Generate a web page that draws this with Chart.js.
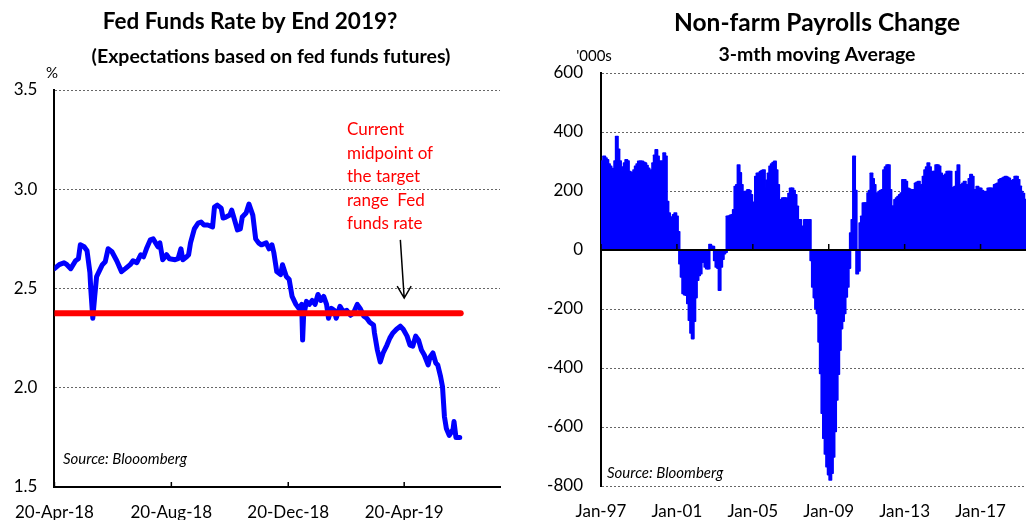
<!DOCTYPE html>
<html>
<head>
<meta charset="utf-8">
<script src="https://cdn.jsdelivr.net/npm/chart.js@4.4.1/dist/chart.umd.min.js"></script>
<style>
html, body { margin: 0; padding: 0; background: #fff; overflow: hidden; width: 1026px; height: 520px; }
#fedChart { position: absolute; left: 0; top: 0; }
#nfpChart { position: absolute; left: 513px; top: 0; }
</style>
</head>
<body>
<canvas id="fedChart" width="513" height="520"></canvas>
<canvas id="nfpChart" width="530" height="520"></canvas>
<script>
// Left: fed funds futures implied rate (days counted from 20-Apr-18)
var fedDays = [0, 5, 10, 13, 17, 22, 25, 27, 31, 34, 37, 38, 40, 42, 44, 48, 50, 53, 56, 60,
  65, 70, 74, 79, 82, 86, 90, 93, 96, 100, 103, 108, 110, 113, 117, 120, 126, 129, 132, 134,
  138, 140, 142, 146, 150, 153, 156, 160, 165, 167, 170, 174, 176, 179, 183, 185, 188, 191, 194, 196,
  200, 203, 207, 210, 213, 216, 221, 224, 227, 229, 232, 236, 238, 242, 245, 248, 252, 255, 258, 259,
  260, 263, 266, 269, 272, 275, 278, 281, 284, 286, 289, 292, 294, 298, 301, 305, 309, 312, 316, 319,
  323, 326, 329, 333, 334, 337, 340, 343, 347, 350, 353, 357, 361, 364, 368, 371, 374, 377, 380, 383,
  386, 390, 392, 395, 398, 400, 403, 405, 407, 409, 412, 416, 417, 419, 423];
var fedRates = [2.60, 2.62, 2.63, 2.62, 2.60, 2.64, 2.65, 2.72, 2.71, 2.69, 2.58, 2.49, 2.35, 2.46, 2.56, 2.60, 2.62, 2.635, 2.70, 2.685,
  2.64, 2.585, 2.60, 2.62, 2.64, 2.63, 2.67, 2.66, 2.70, 2.745, 2.75, 2.71, 2.73, 2.645, 2.67, 2.65, 2.645, 2.65, 2.70, 2.645,
  2.66, 2.67, 2.73, 2.80, 2.83, 2.835, 2.82, 2.82, 2.81, 2.91, 2.92, 2.905, 2.855, 2.86, 2.87, 2.895, 2.845, 2.795, 2.80, 2.86,
  2.88, 2.925, 2.87, 2.75, 2.73, 2.72, 2.73, 2.70, 2.72, 2.68, 2.585, 2.57, 2.62, 2.56, 2.545, 2.46, 2.42, 2.40, 2.42, 2.24,
  2.36, 2.435, 2.42, 2.44, 2.42, 2.47, 2.44, 2.46, 2.42, 2.35, 2.40, 2.39, 2.35, 2.41, 2.385, 2.39, 2.365, 2.375, 2.42, 2.40,
  2.36, 2.35, 2.33, 2.316, 2.275, 2.19, 2.13, 2.175, 2.215, 2.25, 2.275, 2.295, 2.31, 2.295, 2.26, 2.215, 2.21, 2.26, 2.24, 2.19,
  2.165, 2.115, 2.155, 2.175, 2.125, 2.115, 2.056, 2.005, 1.855, 1.795, 1.76, 1.79, 1.83, 1.75, 1.75];
var targetDays = [0, 424];
var targetRate = [2.375, 2.375];
var fedTickDays = [0, 122, 244, 365];
var fedTickLabels = ['20-Apr-18', '20-Aug-18', '20-Dec-18', '20-Apr-19'];
var noteLines = ['Current', 'midpoint of', 'the target', 'range  Fed', 'funds rate'];

// Right: non-farm payrolls change, 3-mth moving average, '000s, Jan-97 .. Jul-19
var monthNames = ['Jan', 'Feb', 'Mar', 'Apr', 'May', 'Jun', 'Jul', 'Aug', 'Sep', 'Oct', 'Nov', 'Dec'];
var nfpChange = [
  287, 300, 316, 310, 304, 290, 282, 275, 270, 300, 383, 340,
  300, 265, 280, 293, 304, 300, 265, 262, 259, 270, 282, 290,
  299, 299, 299, 296, 293, 285, 276, 265, 270, 293, 320, 338,
  316, 300, 276, 300, 327, 316, 163, 124, 101, 110, 118, 124,
  113, 60, -45, -90, -146, -150, -152, -180, -237, -280, -299, -240,
  -160, -101, -85, -79, -40, -23, -56, -62, -62, 17, 11, 10,
  -34, -56, -60, -135, -56, -30, -11, -6, 113, 113, 116, 118,
  135, 214, 220, 287, 260, 220, 147, 197, 197, 203, 200, 186,
  160, 147, 248, 259, 259, 265, 268, 270, 208, 235, 259, 282,
  290, 295, 299, 270, 220, 169, 147, 175, 175, 175, 147, 190,
  208, 208, 200, 186, 147, 101, 101, 51, 79, 101, 101, 90,
  101, -34, -124, -160, -197, -214, -310, -417, -552, -637, -690, -733,
  -760, -778, -755, -700, -614, -507, -420, -338, -265, -240, -214, -158,
  -124, -60, 56, 101, 316, 200, -79, -70, 90, 113, 158, 158,
  158, 192, 200, 259, 240, 220, 147, 192, 197, 200, 203, 270,
  280, 287, 287, 203, 147, 147, 169, 175, 180, 186, 192, 237,
  237, 231, 208, 205, 203, 203, 203, 225, 228, 231, 197, 220,
  248, 270, 280, 293, 280, 259, 265, 265, 287, 287, 282, 259,
  250, 242, 255, 265, 265, 265, 208, 210, 214, 265, 287, 208,
  220, 225, 231, 220, 214, 240, 254, 248, 203, 203, 214, 208,
  208, 200, 197, 186, 197, 208, 208, 208, 180, 220, 222, 225,
  237, 240, 242, 245, 248, 245, 242, 231, 234, 237, 248, 248,
  237, 215, 197, 190, 170, 160, 170];
var nfpTickLabels = ['Jan-97', 'Jan-01', 'Jan-05', 'Jan-09', 'Jan-13', 'Jan-17'];

var nfpMonths = [];
for (var i = 0; i < nfpChange.length; i++) {
  var yr = 1997 + Math.floor(i / 12);
  nfpMonths.push(monthNames[i % 12] + '-' + String(yr).slice(2));
}

var FONT = 'Lato, "Open Sans", sans-serif';
Chart.defaults.font.family = FONT;
Chart.defaults.color = '#000';

// Left chart -------------------------------------------------------
var fedExtras = {
  id: 'fedExtras',
  afterDraw: function(chart) {
    var ctx = chart.ctx, xs = chart.scales.x, ys = chart.scales.y, a = chart.chartArea;
    ctx.save();
    ctx.fillStyle = '#000';
    ctx.textAlign = 'center';
    ctx.textBaseline = 'middle';
    ctx.font = 'bold 22.5px ' + FONT;
    ctx.fillText('Fed Funds Rate by End 2019?', 250, 22);
    ctx.font = 'bold 19.5px ' + FONT;
    ctx.fillText('(Expectations based on fed funds futures)', 271, 57);
    ctx.font = '15px ' + FONT;
    ctx.fillText('%', 52, 73);

    // inside tick marks on the date axis
    ctx.strokeStyle = '#000';
    ctx.lineWidth = 1.5;
    fedTickDays.forEach(function(d) {
      var px = xs.getPixelForValue(d);
      ctx.beginPath();
      ctx.moveTo(px, a.bottom);
      ctx.lineTo(px, a.bottom - 5);
      ctx.stroke();
    });

    // red note
    ctx.fillStyle = '#FF0000';
    ctx.font = '17px ' + FONT;
    ctx.textAlign = 'left';
    noteLines.forEach(function(t, i) {
      ctx.fillText(t, 347, 130 + i * 23.4);
    });

    // arrow pointing at the red line
    var x0 = xs.getPixelForValue(361), y0 = ys.getPixelForValue(2.745);
    var x1 = xs.getPixelForValue(365), y1 = ys.getPixelForValue(2.452);
    ctx.strokeStyle = '#000';
    ctx.lineWidth = 1.5;
    ctx.beginPath();
    ctx.moveTo(x0, y0);
    ctx.lineTo(x1, y1);
    ctx.moveTo(x1 - 7, y1 - 12);
    ctx.lineTo(x1, y1);
    ctx.lineTo(x1 + 7, y1 - 12);
    ctx.stroke();

    ctx.fillStyle = '#000';
    ctx.font = 'italic 15px ' + FONT;
    ctx.fillText('Source: Blooomberg', 63, 459);
    ctx.restore();
  }
};

new Chart(document.getElementById('fedChart'), {
  type: 'line',
  data: {
    datasets: [{
      label: 'Current midpoint',
      data: targetDays.map(function(d, i) { return { x: d, y: targetRate[i] }; }),
      borderColor: '#FF0000',
      borderWidth: 6,
      borderCapStyle: 'round',
      pointRadius: 0,
      fill: false
    }, {
      label: 'Implied rate',
      data: fedDays.map(function(d, i) { return { x: d, y: fedRates[i] }; }),
      borderColor: '#0000FF',
      borderWidth: 5,
      borderJoinStyle: 'round',
      borderCapStyle: 'round',
      pointRadius: 0,
      tension: 0,
      fill: false
    }]
  },
  options: {
    responsive: false,
    animation: false,
    layout: { padding: { top: 90, right: 13, left: 0, bottom: 0 } },
    plugins: { legend: { display: false }, tooltip: { enabled: false } },
    scales: {
      x: {
        type: 'linear',
        min: 0,
        max: 465,
        grid: { display: false, drawTicks: false },
        border: { display: true, color: '#000', width: 2 },
        afterBuildTicks: function(scale) {
          scale.ticks = fedTickDays.map(function(v) { return { value: v }; });
        },
        afterFit: function(scale) { scale.height = 33; },
        ticks: {
          padding: 15,
          maxRotation: 0,
          font: { size: 17 },
          callback: function(v, i) { return fedTickLabels[i]; }
        }
      },
      y: {
        min: 1.5,
        max: 3.5,
        grid: { color: '#666', drawTicks: false },
        border: { display: true, color: '#000', width: 2, dash: [2, 2] },
        afterFit: function(scale) { scale.width = 50; },
        ticks: {
          stepSize: 0.5,
          padding: 17,
          font: { size: 17 },
          callback: function(v) { return v.toFixed(1); }
        }
      }
    }
  },
  plugins: [fedExtras]
});

// Right chart ------------------------------------------------------
var nfpExtras = {
  id: 'nfpExtras',
  afterDatasetsDraw: function(chart) {
    var ctx = chart.ctx, xs = chart.scales.x, ys = chart.scales.y, a = chart.chartArea;
    var y0 = ys.getPixelForValue(0);
    ctx.save();
    ctx.strokeStyle = '#000';
    ctx.lineWidth = 2;
    ctx.beginPath();
    ctx.moveTo(a.left, y0);
    ctx.lineTo(a.right, y0);
    ctx.stroke();
    ctx.lineWidth = 1.5;
    nfpTickLabels.forEach(function(lb) {
      var px = xs.getPixelForValue(nfpMonths.indexOf(lb));
      ctx.beginPath();
      ctx.moveTo(px, y0);
      ctx.lineTo(px, y0 - 6);
      ctx.stroke();
    });
    ctx.restore();
  },
  afterDraw: function(chart) {
    var ctx = chart.ctx;
    ctx.save();
    ctx.fillStyle = '#000';
    ctx.textAlign = 'center';
    ctx.textBaseline = 'middle';
    ctx.font = 'bold 24.5px ' + FONT;
    ctx.fillText('Non-farm Payrolls Change', 304, 23);
    ctx.font = 'bold 19.5px ' + FONT;
    ctx.fillText('3-mth moving Average', 304, 55);
    ctx.font = '15px ' + FONT;
    ctx.fillText("'000s", 81, 56);
    ctx.textAlign = 'left';
    ctx.font = 'italic 15px ' + FONT;
    ctx.fillText('Source: Bloomberg', 94, 473);
    ctx.restore();
  }
};

new Chart(document.getElementById('nfpChart'), {
  type: 'bar',
  data: {
    labels: nfpMonths,
    datasets: [{
      label: 'Non-farm payrolls, 3mma',
      data: nfpChange,
      backgroundColor: '#0000FF',
      borderWidth: 0,
      borderRadius: 1,
      inflateAmount: 1.2,
      barPercentage: 1,
      categoryPercentage: 1
    }]
  },
  options: {
    responsive: false,
    animation: false,
    layout: { padding: { top: 73, right: 11, left: 0, bottom: 0 } },
    plugins: { legend: { display: false }, tooltip: { enabled: false } },
    scales: {
      x: {
        offset: false,
        grid: { display: false, drawTicks: false },
        border: { display: false },
        afterFit: function(scale) { scale.height = 34; },
        ticks: {
          autoSkip: false,
          maxRotation: 0,
          minRotation: 0,
          padding: 15,
          font: { size: 17 },
          callback: function(v, i) {
            var lb = nfpMonths[i];
            return nfpTickLabels.indexOf(lb) >= 0 ? lb : '';
          }
        }
      },
      y: {
        min: -800,
        max: 600,
        grid: { color: '#666', drawTicks: false },
        border: { display: true, color: '#000', width: 2, dash: [2, 2] },
        afterFit: function(scale) { scale.width = 88; },
        ticks: {
          stepSize: 200,
          padding: 18,
          font: { size: 17 }
        }
      }
    }
  },
  plugins: [nfpExtras]
});
</script>
</body>
</html>
